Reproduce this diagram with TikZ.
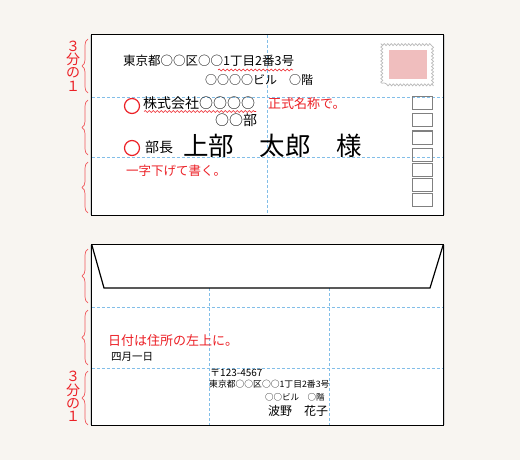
\documentclass[tikz,border=0pt]{standalone}
\usepackage{fontspec}
\newfontfamily\jp{Noto Sans CJK JP}
\usetikzlibrary{decorations.pathreplacing,decorations.pathmorphing}
\definecolor{bgcol}{RGB}{248,245,241}
\definecolor{guide}{RGB}{130,190,232}
\definecolor{redmark}{RGB}{236,32,38}
\definecolor{stampfill}{RGB}{240,190,190}

\begin{document}
\begin{tikzpicture}[x=1pt,y=-1pt,
        txt/.style={inner sep=0pt, anchor=west, font=\jp\fontsize{#1}{#1}\selectfont},
        note/.style={txt=#1, text=redmark},
        env/.style={fill=white, inner sep=0pt, minimum width=351pt, minimum height=180pt},
        edge/.style={draw=black, line width=1.2pt},
        guideline/.style={draw=guide, line width=0.7pt, dash pattern=on 3pt off 2pt},
        third/.style={draw=redmark!75, line width=0.7pt, decorate, decoration={brace, amplitude=6pt}},
        wavy/.style={draw=redmark, line width=0.6pt, decorate, decoration={snake, amplitude=0.9pt, segment length=4pt}},
        circ/.style={circle, draw=redmark, line width=1.2pt, minimum size=15pt, inner sep=0pt},
        pbox/.style={draw=gray, line width=1pt, minimum width=20pt, minimum height=13pt, inner sep=0pt},
        frac/.style={text=redmark, align=center, inner sep=0pt, font=\jp\fontsize{14}{13.4}\selectfont}]
    \fill[bgcol] (0,0) rectangle (520,460);
    \useasboundingbox (0,0) rectangle (520,460);

    % front
    \fill[gray!35] (90,35) rectangle (445,215);
    \node[env] (front) at (267.5,125) {};
    \draw[guideline] (front.north) -- (front.south);
    \draw[guideline] (front.west |- 0,97) -- (front.east |- 0,97);
    \draw[guideline] (front.west |- 0,157) -- (front.east |- 0,157);

    \node[fill=white, minimum width=50pt, minimum height=39pt] (stampbg) at (407,63.5) {};
    \draw[gray!55, line width=0.7pt, decorate, decoration={snake, amplitude=1pt, segment length=3.5pt}]
        (stampbg.south west) rectangle (stampbg.north east);
    \node[fill=stampfill, minimum width=38pt, minimum height=29pt] (stamp) at (408,64.5) {};
    \foreach \t [count=\i] in {97,114,131,148,163,178,193}
        \node[pbox] (pc\i) at (422,\t+6.5) {};

    \node[txt=12.5] (addr1) at (123,61) {東京都○○区○○1丁目2番3号};
    \node[txt=12] (addr2) at (205,80) {○○○○ビル　○階};
    \draw[wavy] (218,70) -- (293,70);
    \node[circ] (mk1) at (132,106) {};
    \node[txt=14] (company) at (143,103) {株式会社○○○○};
    \draw[wavy] (144,111.5) -- (256,111.5);
    \node[note=13] (note1) at (268,104) {正式名称で。};
    \node[txt=14] (dept) at (215,120) {○○部};
    \node[circ] (mk2) at (132,148) {};
    \node[txt=14] (title) at (145,147) {部長};
    \node[txt=25.5] (name) at (183,146) {上部　太郎　様};
    \node[note=12.5] (note2) at (126,171) {一字下げて書く。};
    \draw[edge] (front.south west) rectangle (front.north east);

    % back
    \fill[gray!35] (90,245) rectangle (445,425);
    \node[env] (back) at (267.5,335) {};
    \draw[guideline] (back.west |- 0,307) -- (back.east |- 0,307);
    \draw[guideline] (back.west |- 0,368) -- (back.east |- 0,368);
    \draw[guideline] (209,288) -- (back.south -| 209,0);
    \draw[guideline] (329,288) -- (back.south -| 329,0);
    \draw[edge] (back.north west) -- (104,288) -- (430,288) -- (back.north east);

    \node[note=13] (note3) at (108,341) {日付は住所の左上に。};
    \node[txt=10.5] (date) at (111,357) {四月一日};
    \node[txt=10] (zip) at (210,373) {〒123-4567};
    \node[txt=8.8] (raddr1) at (209,384) {東京都○○区○○1丁目2番3号};
    \node[txt=8.5] (raddr2) at (265,397) {○○ビル　○階};
    \node[txt=12] (sender) at (268,411) {波野　花子};
    \draw[edge] (back.south west) rectangle (back.north east);

    % thirds
    \foreach \a/\b in {39/93,100/155,162/213,249/303,310/365,371/425}
        \draw[third] (88,\b) -- (88,\a);
    \node[frac] (third1) at (73,66) {３\\分\\の\\１};
    \node[frac] (third2) at (73,396.5) {３\\分\\の\\１};
\end{tikzpicture}
\end{document}
